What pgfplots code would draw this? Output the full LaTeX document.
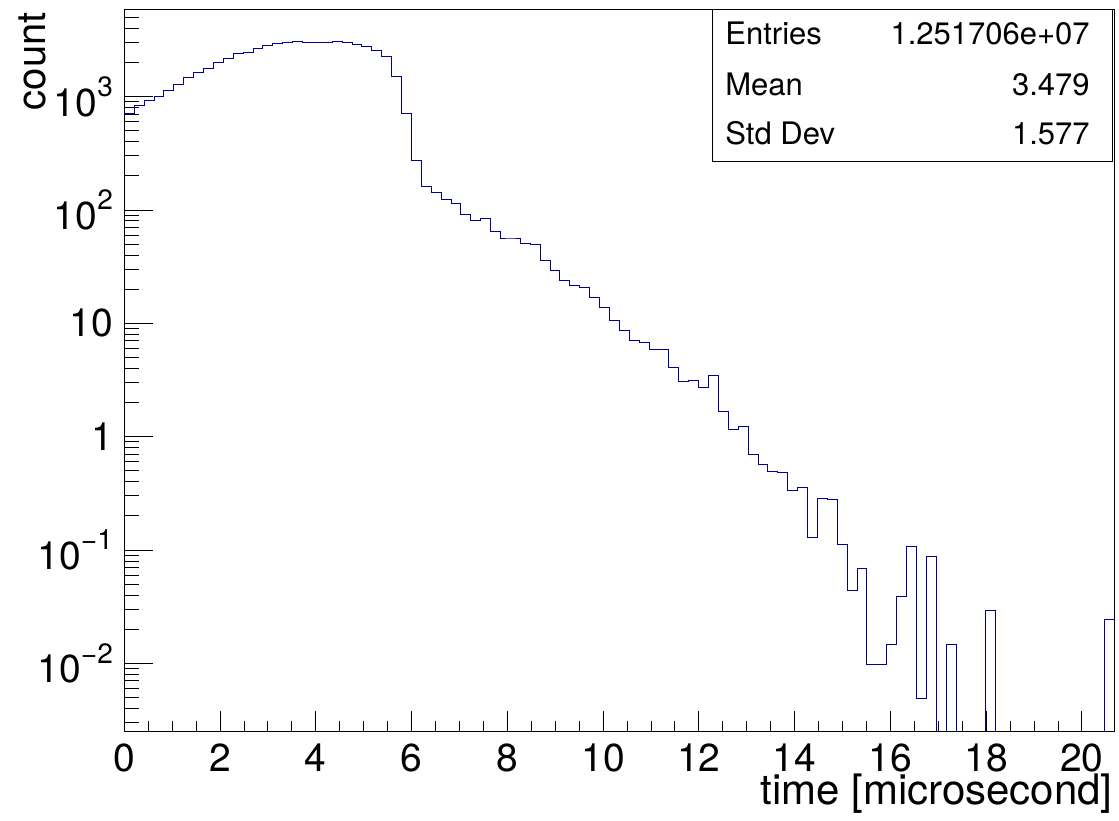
\documentclass[border=0pt]{standalone}
\usepackage{fontspec}
\setmainfont{TeX Gyre Heros}
\usepackage{pgfplots}
\usepackage{pgfplotstable}
\pgfplotsset{compat=1.18}
\usetikzlibrary{calc}
\definecolor{histblue}{RGB}{0,0,153}
\newcommand{\sups}[1]{\raisebox{0.5em}{\fontsize{14}{14}\selectfont #1}}

\pgfplotstableread{
x y
0 714
0.2068 840
0.4136 916
0.6204 1000
0.8272 1139
1.034 1269
1.2408 1483
1.4476 1619
1.6544 1781
1.8612 2012
2.068 2151
2.2748 2382
2.4816 2445
2.6884 2636
2.8952 2842
3.102 2937
3.3088 2979
3.5156 3058
3.7224 3021
3.9292 3021
4.136 3021
4.3428 3058
4.5496 3021
4.7564 2860
4.9632 2746
5.17 2532
5.3768 2241
5.5836 1514
5.7904 704
5.9972 274.6
6.204 160.6
6.4108 143.3
6.6176 124.3
6.8244 114.6
7.0312 90.9
7.238 80.4
7.4448 83.8
7.6516 64.9
7.8584 55.5
8.0652 55.5
8.272 50.4
8.4788 49.4
8.6856 36.0
8.8924 29.4
9.0992 24.0
9.306 21.5
9.5128 20.6
9.7196 17.0
9.9264 13.9
10.1332 10.5
10.34 8.73
10.5468 7.08
10.7536 6.74
10.9604 5.90
11.1672 5.90
11.374 4.06
11.5808 3.05
11.7876 3.11
11.9944 2.69
12.2012 3.45
12.408 1.66
12.6148 1.167
12.8216 1.241
13.0284 0.699
13.2352 0.564
13.442 0.495
13.6488 0.484
13.8556 0.332
14.0624 0.358
14.2692 0.128
14.476 0.284
14.6828 0.280
14.8896 0.113
15.0964 0.0442
15.3032 0.0687
15.51 0.00982
15.7168 0.00982
15.9236 0.01473
16.1304 0.0393
16.3372 0.108
16.544 0.00491
16.7508 0.0884
16.9576 0.00001
17.1644 0.01473
17.3712 0.00001
17.578 0.00001
17.7848 0.00001
17.9916 0.0295
18.1984 0.00001
18.4052 0.00001
18.612 0.00001
18.8188 0.00001
19.0256 0.00001
19.2324 0.00001
19.4392 0.00001
19.646 0.00001
19.8528 0.00001
20.0596 0.00001
20.2664 0.00001
20.4732 0.02455
20.68 0.02455
}\histdata

\begin{document}
\begin{tikzpicture}
\begin{axis}[
  name=ax,
  scale only axis,
  width=495.1pt, height=361pt,
  ymode=log,
  xmin=0, xmax=20.68,
  ymin=0.00248, ymax=5820,
  axis line style={line width=0.5pt, black},
  every tick/.style={black, line width=0.5pt},
  tick align=inside,
  xtick pos=bottom, ytick pos=left,
  xtick={0,2,4,6,8,10,12,14,16,18,20},
  xticklabels={0,2,4,6,8,10,12,14,16,18,20},
  minor x tick num=3,
  xtick style={/pgfplots/major tick length=10.5pt, /pgfplots/minor tick length=5.5pt},
  ytick style={/pgfplots/major tick length=14.5pt, /pgfplots/minor tick length=7.5pt},
  ytick={0.01,0.1,1,10,100,1000},
  minor ytick={0.003,0.004,0.005,0.006,0.007,0.008,0.009,
               0.02,0.03,0.04,0.05,0.06,0.07,0.08,0.09,
               0.2,0.3,0.4,0.5,0.6,0.7,0.8,0.9,
               2,3,4,5,6,7,8,9,
               20,30,40,50,60,70,80,90,
               200,300,400,500,600,700,800,900,
               2000,3000,4000,5000},
  yticklabels={10\sups{−2},10\sups{−1},1\hspace{4.5pt},10\hspace{4.5pt},10\sups{2},10\sups{3}},
  x tick label style={font=\fontsize{19.5}{19.5}\selectfont, anchor=north, inner sep=0pt, yshift=-5.5pt},
  y tick label style={font=\fontsize{19.5}{19.5}\selectfont, anchor=east, inner sep=0pt, xshift=-5.5pt},
]
\addplot[const plot mark left, histblue, line width=0.5pt] table[x=x, y=y] {\histdata};
\end{axis}
% stats box
\draw[line width=0.5pt, fill=white] ($(ax.north west)+(293.85pt,0pt)$) rectangle ($(ax.north west)+(494.1pt,-76pt)$);
\begin{scope}[every node/.style={inner sep=0pt, font=\fontsize{15.5}{15.5}\selectfont}]
\node[anchor=base west] at ($(ax.north west)+(300.35pt,-17.5pt)$) {Entries};
\node[anchor=base west] at ($(ax.north west)+(300.35pt,-42.85pt)$) {Mean};
\node[anchor=base west] at ($(ax.north west)+(300.35pt,-67.5pt)$) {Std Dev};
\node[anchor=base east] at ($(ax.north west)+(482.85pt,-17.5pt)$) {1.251706e+07};
\node[anchor=base east] at ($(ax.north west)+(482.85pt,-42.85pt)$) {3.479};
\node[anchor=base east] at ($(ax.north west)+(482.85pt,-67.5pt)$) {1.577};
\end{scope}
% axis titles
\node[anchor=base east, inner sep=0pt, font=\fontsize{21}{21}\selectfont] at ($(ax.south east)+(-0.75pt,-36.5pt)$) {time [microsecond]};
\node[rotate=90, anchor=base east, inner sep=0pt, font=\fontsize{20}{20}\selectfont] at ($(ax.north west)+(-39.65pt,-1pt)$) {count};
% bounding box
\pgfresetboundingbox
\path ($(ax.south west)+(-62.15pt,-44.5pt)$) rectangle ($(ax.north east)+(2.25pt,5pt)$);
\end{tikzpicture}
\end{document}
